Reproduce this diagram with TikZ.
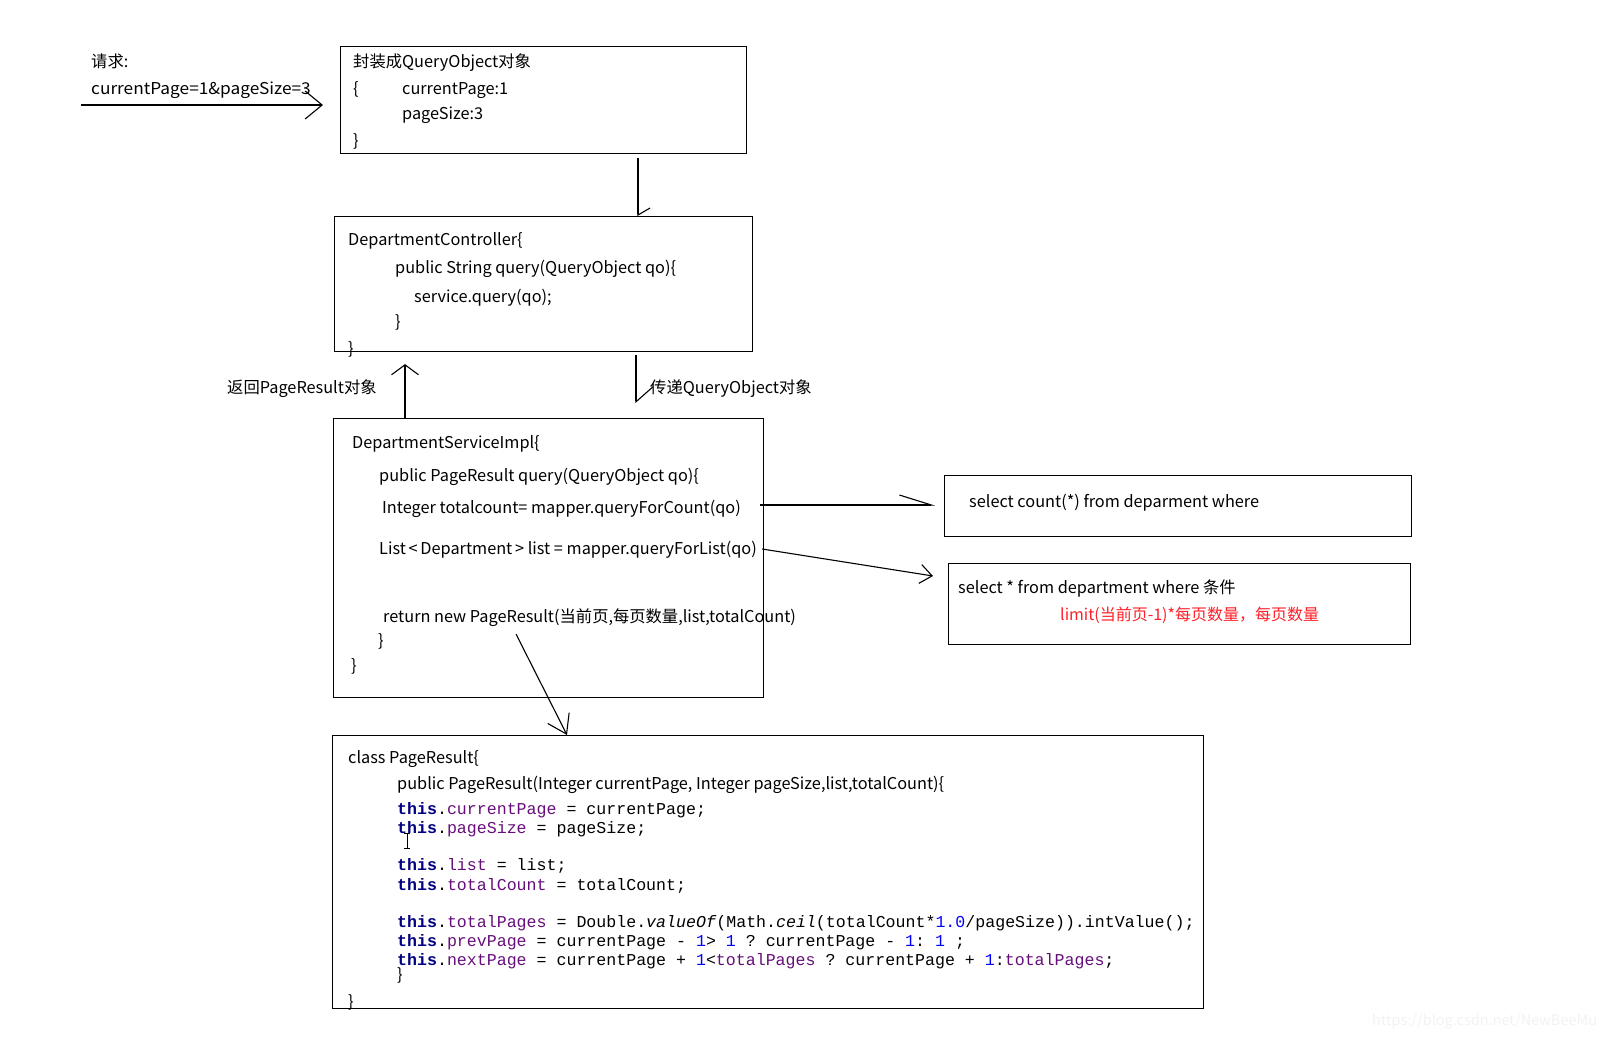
\documentclass[tikz,border=0pt]{standalone}
\usepackage{fontspec}
\usepackage{graphicx}
\setmainfont{Noto Sans CJK SC}
\setmonofont{Liberation Mono}
\usetikzlibrary{arrows.meta}
\definecolor{jkw}{HTML}{000080}
\definecolor{jfl}{HTML}{660E7A}
\definecolor{jnm}{HTML}{0000FF}
\definecolor{redtxt}{HTML}{FF1E28}
\newcommand\jthis{\textbf{\color{jkw}this}}
\newcommand\jfld[1]{{\color{jfl}#1}}
\newcommand\jnum[1]{{\color{jnm}#1}}
\tikzset{
  box/.style={draw, line width=1.1pt, anchor=north west, inner sep=0pt},
  txt/.style={anchor=west, inner sep=0pt, font=\fontsize{16.3}{19}\selectfont, text height=14pt, text depth=1pt},
  redt/.style={txt, text=redtxt, font=\fontsize{16}{19}\selectfont},
  code/.style={anchor=west, inner sep=0pt, font=\fontsize{16.6}{19}\selectfont\ttfamily, text height=11pt, text depth=1pt},
  conn/.style={line width=1.1pt},
}
\begin{document}
\begin{tikzpicture}[x=1pt,y=-1pt]
\useasboundingbox (0,0) rectangle (1608,1038);

% boxes
\node[box, minimum width=406pt, minimum height=107pt] (b1) at (340,46) {};
\node[box, minimum width=418pt, minimum height=135pt] (b2) at (334,216) {};
\node[box, minimum width=430pt, minimum height=279pt] (b3) at (333,418) {};
\node[box, minimum width=467pt, minimum height=61pt] (b4) at (944,475) {};
\node[box, minimum width=462pt, minimum height=81pt] (b5) at (948,563) {};
\node[box, minimum width=871pt, minimum height=273pt] (b6) at (332,735) {};

% request
\node[txt] (r1) at (91,61) {请求:};
\node[txt] (r2) at (91,88) {\scalebox{1.06}[1]{currentPage=1\&pageSize=3}};

% box 1 text
\node[txt] (t11) at (353,61) {封装成QueryObject对象};
\node[txt] (t12) at (353,88) {\{};
\node[txt] (t13) at (402,88) {currentPage:1};
\node[txt] (t14) at (402,113) {pageSize:3};
\node[txt] (t15) at (353,140) {\}};

% box 2 text
\node[txt] (t21) at (348,239) {DepartmentController\{};
\node[txt] (t22) at (395,267) {public String query(QueryObject qo)\{};
\node[txt] (t23) at (414,296) {service.query(qo);};
\node[txt] (t24) at (395,321) {\}};
\node[txt] (t25) at (348,348) {\}};

% labels
\node[txt] (lret) at (227,387) {返回PageResult对象};
\node[txt] (lpass) at (650,387) {传递QueryObject对象};

% box 3 text
\node[txt] (t31) at (352,442) {DepartmentServiceImpl\{};
\node[txt] (t32) at (379,475) {public PageResult query(QueryObject qo)\{};
\node[txt] (t33) at (382,507) {Integer totalcount= mapper.queryForCount(qo)};
\node[txt] (t34) at (379,548) {List\,<\,Department\,> list = mapper.queryForList(qo)};
\node[txt] (t35) at (383,616) {return new PageResult(当前页,每页数量,list,totalCount)};
\node[txt] (t36) at (378,640) {\}};
\node[txt] (t37) at (351,665) {\}};

% box 4, 5 text
\node[txt] (t41) at (969,501) {select count(*) from deparment where};
\node[txt] (t51) at (958,587) {select * from department where 条件};
\node[redt] (t52) at (1060,614) {limit(当前页-1)*每页数量，每页数量};

% box 6 text
\node[txt] (t61) at (348,757) {class PageResult\{};
\node[txt] (t62) at (397,783) {public PageResult(Integer currentPage, Integer pageSize,list,totalCount)\{};
\node[code] (c1) at (397,809) {\jthis.\jfld{currentPage} = currentPage;};
\node[code] (c2) at (397,828) {\jthis.\jfld{pageSize} = pageSize;};
\node[code] (c3) at (397,865) {\jthis.\jfld{list} = list;};
\node[code] (c4) at (397,885) {\jthis.\jfld{totalCount} = totalCount;};
\node[code] (c5) at (397,922) {\jthis.\jfld{totalPages} = Double.\textit{valueOf}(Math.\textit{ceil}(totalCount*\jnum{1.0}/pageSize)).intValue();};
\node[code] (c6) at (397,941) {\jthis.\jfld{prevPage} = currentPage - \jnum{1}> \jnum{1} ? currentPage - \jnum{1}: \jnum{1} ;};
\node[code] (c7) at (397,960) {\jthis.\jfld{nextPage} = currentPage + \jnum{1}<\jfld{totalPages} ? currentPage + \jnum{1}:\jfld{totalPages};};
\node[txt] (t63) at (397,974) {\}};
\node[txt] (t64) at (348,1001) {\}};

% text cursor
\draw[line width=0.8pt] (404,833) -- (410,833) (407,833) -- (407,848) (404,848) -- (410,848);

% watermark
\node[txt, text=gray!10, font=\fontsize{14.5}{18}\selectfont] (wm) at (1372,1019) {https://blog.csdn.net/NewBeeMu};

% connectors
\coordinate (a0s) at (81,105);
\coordinate (a0e) at ([xshift=-17pt]b1.west |- a0s);
\draw[conn, -{Straight Barb[length=17pt,width=28pt]}] (a0s) -- (a0e);

\coordinate (a1s) at ([yshift=-4pt]b1.south -| 638,0);
\coordinate (a1e) at (b2.north -| a1s);
\draw[conn, -{Straight Barb[harpoon,length=7pt,width=24pt]}] (a1s) -- (a1e);

\coordinate (a2s) at (b3.north -| 405,0);
\coordinate (a2e) at ([yshift=-12pt]b2.south -| a2s);
\draw[conn, -{Straight Barb[length=10pt,width=27pt]}] (a2s) -- (a2e);

\coordinate (a3s) at ([yshift=-3pt]b2.south -| 636,0);
\coordinate (a3e) at ([yshift=15pt]b3.north -| a3s);
\draw[conn, -{Straight Barb[harpoon,length=15pt,width=34pt]}] (a3s) -- (a3e);

\coordinate (a4s) at ([xshift=-4pt]b3.east |- 0,505);
\coordinate (a4e) at ([xshift=-9pt]b4.west |- 0,505);
\draw[conn, -{Straight Barb[harpoon,length=32pt,width=20pt]}] (a4s) -- (a4e);

\coordinate (a5s) at ([xshift=-2pt]b3.east |- 0,549);
\coordinate (a5e) at ([xshift=-15pt]b5.west |- 0,576);
\draw[conn, -{Straight Barb[length=12pt,width=19pt]}] (a5s) -- (a5e);

\coordinate (a6s) at (516,634);
\coordinate (a6e) at (b6.north -| 567,0);
\draw[conn, -{Straight Barb[length=18pt,width=24pt]}] (a6s) -- (a6e);
\end{tikzpicture}
\end{document}
